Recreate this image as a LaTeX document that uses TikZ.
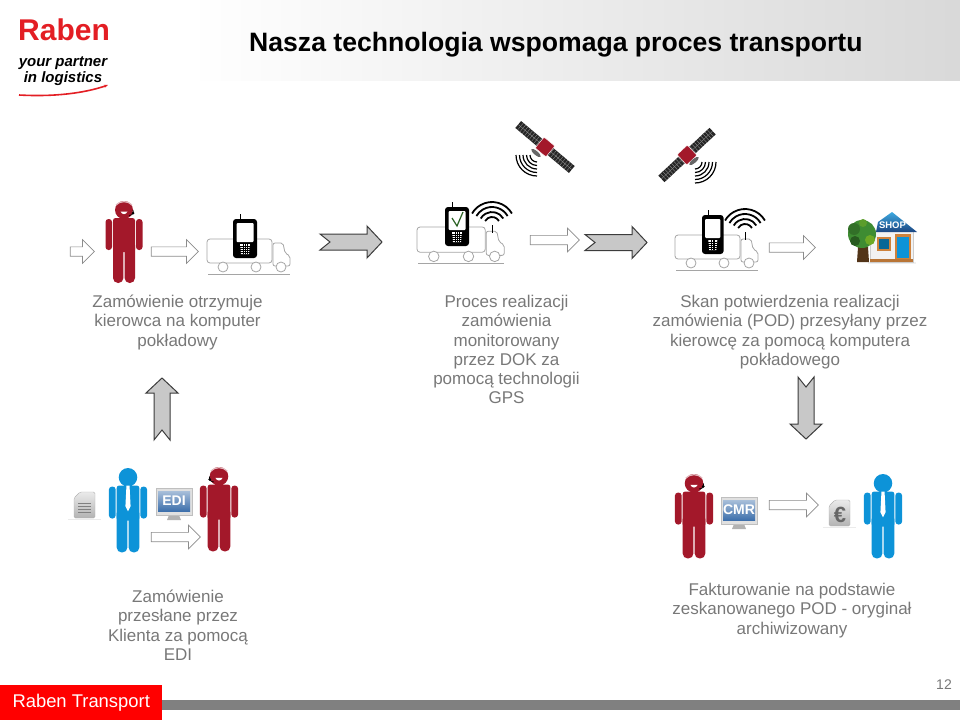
\documentclass[tikz,border=0pt]{standalone}
\usepackage{fontspec}
\setmainfont{Liberation Sans}
\usetikzlibrary{shapes,arrows.meta,calc}
\definecolor{rabenred}{RGB}{227,30,36}
\definecolor{staffred}{RGB}{163,24,42}
\definecolor{clientblue}{RGB}{13,147,216}
\definecolor{captiongray}{RGB}{120,120,120}
\definecolor{truckgray}{RGB}{165,165,165}
\definecolor{barfill}{RGB}{200,200,200}
\definecolor{barline}{RGB}{60,60,60}
\definecolor{screenblue}{RGB}{62,112,172}
\definecolor{roofblue}{RGB}{28,70,130}
\definecolor{treegreen}{RGB}{62,140,50}
\definecolor{doortan}{RGB}{206,130,60}
\newcommand{\bodyshape}{
    \fill[pic actions] (0,10) circle[radius=9pt];
    \fill[pic actions, rounded corners=2.5pt] (-11,18) rectangle (11,52);
    \fill[pic actions, rounded corners=5pt] (-11,40) rectangle (-0.6,83);
    \fill[pic actions, rounded corners=5pt] (0.6,40) rectangle (11,83);
    \fill[pic actions, rounded corners=3pt] (-18.5,19) rectangle (-12,50);
    \fill[pic actions, rounded corners=3pt] (12,19) rectangle (18.5,50);
}
\tikzset{
    operator/.pic={
        \bodyshape
        \draw[white!70!staffred, line width=1.2pt] (-8,5) .. controls (-4,0.5) and (4,0.5) .. (8,5);
        \draw[black, line width=0.7pt] (9,10) .. controls (10,13) and (9,15) .. (5,15.5);
        \fill[black] (9,13) circle[radius=1.5pt];
        \fill[white] (-3.5,11.5) .. controls (-2,15) and (2,15) .. (3.5,11.5) -- cycle;
    },
    client/.pic={
        \bodyshape
        \fill[white] (-1.5,18) -- (1.5,18) -- (2.5,38) -- (0,43) -- (-2.5,38) -- cycle;
    },
    truck/.pic={
        \draw[truckgray, line width=0.8pt, rounded corners=3pt] (0,0) rectangle (65,24);
        \draw[truckgray, line width=0.8pt, rounded corners=2pt] (66,27) -- (66,4) -- (76,4) -- (78,14) -- (83,17) -- (83,27) -- cycle;
        \foreach \wx in {16,49,74}
            \draw[truckgray, line width=0.8pt, fill=white] (\wx,28) circle[radius=5pt];
        \draw[truckgray, line width=0.8pt] (1,35) -- (83,35);
    },
    handset/.pic={
        \draw[black, line width=1pt] (7,-5) -- (7,0);
        \fill[black, rounded corners=3pt] (0,0) rectangle (24,39);
        \fill[white, rounded corners=1pt] (3.5,4) rectangle (20.5,23);
        \fill[white] (7,25) -- (17,25) -- (16,35) -- (8,35) -- cycle;
        \foreach \ky in {27,29,31,33}
            \draw[black, line width=0.4pt] (7,\ky) -- (17,\ky);
        \foreach \kx in {10,12,14}
            \draw[black, line width=0.4pt] (\kx,25) -- (\kx,35);
    },
    wifi/.pic={
        \draw[black, line width=1pt] (0,0) -- (0,8);
        \foreach \r in {8,13,18,23}
            \draw[black, line width=1.8pt] (30:\r pt) arc[start angle=30, end angle=150, radius=\r pt];
    },
    satellite/.pic={
        \fill[black!85] (-35,-4.5) rectangle (-6,4.5);
        \fill[black!85] (6,-4.5) rectangle (35,4.5);
        \foreach \gx in {-32,-29,...,-8,8,11,...,32}
            \draw[white!60!black, line width=0.3pt] (\gx,-4.5) -- (\gx,4.5);
        \draw[white!60!black, line width=0.3pt] (-35,0) -- (-6,0) (6,0) -- (35,0);
        \fill[staffred, draw=white, rounded corners=1pt] (-7,-7) rectangle (7,7);
    },
    fan/.pic={
        \foreach \r in {7,10.5,14,17.5,21}
            \draw[black, line width=1.2pt] (-45:\r pt) arc[start angle=-45, end angle=45, radius=\r pt];
    },
    blockarrow/.pic={
        \draw[barline, line width=1pt, fill=barfill, line join=miter] (0,-8) -- (47,-8) -- (47,-16) -- (62,0) -- (47,16) -- (47,8) -- (0,8) -- (10,0) -- cycle;
    },
    monitor/.pic={
        \fill[black!30] (13,27) -- (23,27) -- (25,32) -- (11,32) -- cycle;
        \fill[black!12, draw=black!25, line width=0.4pt] (0,0) rectangle (36,27);
        \shade[top color=screenblue!45, bottom color=screenblue] (2,3) rectangle (34,23);
        \node[font=\fontsize{14}{14}\selectfont\bfseries, text=white, inner sep=0pt] (screentext) at (18,13) {\tikzpictext};
    },
    sheet/.pic={
        \draw[black!8, line width=0.8pt] (-6,27) -- (27,27);
        \shade[top color=black!8, bottom color=black!30, draw=black!30, line width=0.4pt, rounded corners=1.5pt] (0,26) -- (0,6) -- (6,0) -- (21,0) -- (21,26) -- cycle;
    },
    hollowarrow/.style={single arrow, draw=black!45, fill=white, line width=0.7pt, inner sep=4.3pt, outer sep=0pt, single arrow tip angle=90, minimum width=15pt},
    caption/.style={font=\fontsize{17}{19.25}\selectfont, text=captiongray, align=center, anchor=north, inner sep=0pt},
}
\begin{document}
\begin{tikzpicture}[x=1pt, y=-1pt]
    \useasboundingbox (0,0) rectangle (960,720);

    % title band and logo
    \shade[left color=white, right color=black!15] (190,0) rectangle (960,80);
    \node[font=\fontsize{30}{30}\selectfont\bfseries, text=rabenred, anchor=base west, inner sep=0pt] (logo) at (18,40) {Raben};
    \node[font=\fontsize{15}{15.5}\selectfont\bfseries\itshape, align=center, anchor=north, inner sep=0pt] (slogan) at (63,57) {your partner\\in logistics};
    \draw[rabenred, line width=1.6pt, -{Stealth[length=4pt]}] (19,95) .. controls (55,97) and (85,93) .. (108,85);
    \node[font=\fontsize{26.6}{30}\selectfont\bfseries, anchor=base west, inner sep=0pt] (title) at (249,51) {Nasza technologia wspomaga proces transportu};

    % satellites
    \pic[rotate=-40] at (545,147) {satellite};
    \pic[rotate=43] at (687,155) {satellite};
    \fill[black!60, rotate around={-40:(536,153)}] (536,153) circle[x radius=6pt, y radius=2pt];
    \fill[black!60, rotate around={40:(694,161)}] (694,161) circle[x radius=6pt, y radius=2pt];
    \pic[rotate=225] at (537,155) {fan};
    \pic[rotate=315] at (695,162) {fan};

    % first step
    \node[hollowarrow, minimum height=24pt] (in1) at (80,251.5) {};
    \pic[fill=staffred] at (124,200) {operator};
    \node[hollowarrow, minimum height=47pt] (in2) at (172.5,251.5) {};
    \pic at (207,239) {truck};
    \pic at (233,219) {handset};
    \pic at (320,242) {blockarrow};

    % second step
    \pic[scale=1.05] at (417,227) {truck};
    \pic at (445,207) {handset};
    \draw[treegreen!70!black, line width=1.2pt] (452,218) -- (457,226) -- (463,212);
    \pic at (492,225) {wifi};
    \node[hollowarrow, minimum height=49pt] (in3) at (552.5,240) {};
    \pic at (585,242.5) {blockarrow};

    % third step
    \pic at (675,235) {truck};
    \pic[xscale=0.9] at (702,215) {handset};
    \pic at (745,232) {wifi};
    \node[hollowarrow, minimum height=46pt] (in4) at (790,247.5) {};

    % shop
    \fill[black!6] (868,262) rectangle (916,264);
    \fill[black!5, draw=black!20, line width=0.3pt] (870,230) rectangle (913,262);
    \fill[doortan] (895,234) rectangle (911,260);
    \fill[doortan!90!black] (870,259) rectangle (913,262);
    \fill[clientblue] (897,237) rectangle (909,258);
    \fill[doortan] (877,237) rectangle (891,251);
    \fill[clientblue!70!black] (879,239) rectangle (889,249);
    \shade[top color=clientblue!80, bottom color=roofblue] (892,212) -- (917,232) -- (876,232) -- (878,222) -- cycle;
    \node[font=\fontsize{9.5}{10}\selectfont\bfseries, text=white, inner sep=0pt] (shopsign) at (892.5,225.5) {SHOP};
    \fill[black!60!doortan] (858,247) -- (868,247) -- (869,262) -- (857,262) -- cycle;
    \fill[treegreen] (862,234) circle[radius=14pt];
    \fill[treegreen!80!black] (854,229) circle[radius=6pt];
    \fill[treegreen!75!yellow] (870,240) circle[radius=5pt];
    \fill[treegreen!85!yellow] (863,223) circle[radius=4pt];
    \fill[treegreen!65!black] (855,241) circle[radius=5pt];

    % vertical arrows
    \pic[rotate=90] at (162,440) {blockarrow};
    \pic[rotate=-90] at (806,377) {blockarrow};

    % captions
    \node[caption] (c1) at (177.5,295) {Zamówienie otrzymuje\\kierowca na komputer\\pokładowy};
    \node[caption] (c2) at (506.5,295) {Proces realizacji\\zamówienia\\monitorowany\\przez DOK za\\pomocą technologii\\GPS};
    \node[caption] (c3) at (790,295) {Skan potwierdzenia realizacji\\zamówienia (POD) przesyłany przez\\kierowcę za pomocą komputera\\pokładowego};
    \node[caption] (c4) at (178,590) {Zamówienie\\przesłane przez\\Klienta za pomocą\\EDI};
    \node[caption] (c5) at (792,583) {Fakturowanie na podstawie\\zeskanowanego POD - oryginał\\archiwizowany};

    % lower left
    \pic at (74,492) {sheet};
    \foreach \ly in {503,506,509,512}
        \draw[black!50, line width=0.7pt] (78,\ly) -- (91,\ly);
    \pic[fill=clientblue, scale=1.03] at (128,467) {client};
    \pic[pic text=EDI] at (156,488) {monitor};
    \pic[fill=staffred, scale=1.03, xscale=-1] at (219,466) {operator};
    \node[hollowarrow, minimum height=49pt] (in5) at (173.5,537) {};

    % lower right
    \pic[fill=staffred, scale=1.03] at (694,473) {operator};
    \pic[pic text=CMR] at (721,497) {monitor};
    \node[hollowarrow, minimum height=49pt] (in6) at (791.5,505) {};
    \pic at (829,500) {sheet};
    \node[font=\fontsize{22}{22}\selectfont\bfseries, text=black!60, inner sep=0pt] (euro) at (840,515) {€};
    \pic[fill=clientblue, scale=1.03] at (883,473) {client};

    % footer
    \fill[black!50] (162,700) rectangle (960,710);
    \node[fill=red, text=white, font=\fontsize{18.4}{18}\selectfont, minimum width=162pt, minimum height=35pt, anchor=north west, inner sep=0pt] (footer) at (0,685) {Raben Transport};
    \node[font=\fontsize{14}{14}\selectfont, text=captiongray, inner sep=0pt] (page) at (944,685) {12};
\end{tikzpicture}
\end{document}
